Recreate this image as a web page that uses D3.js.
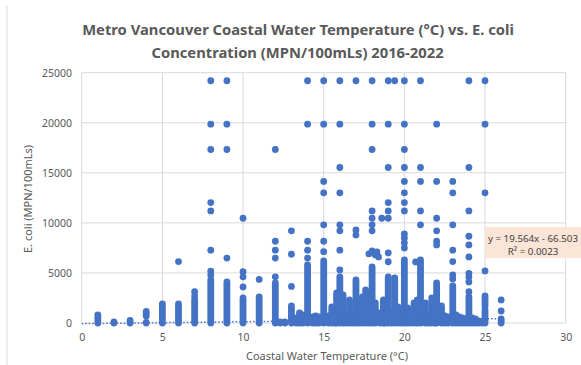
<!DOCTYPE html>
<html>
<head>
<meta charset="utf-8">
<script src="https://cdn.jsdelivr.net/npm/d3@7"></script>
<style>
  body { margin: 0; background: #fff; }
  svg { display: block; font-family: 'Noto Sans', 'Open Sans', sans-serif; }
</style>
</head>
<body>
<div id="chart"></div>
<script>
// axis ticks
const xTicks = [0, 5, 10, 15, 20, 25, 30];
const yTicks = [0, 5000, 10000, 15000, 20000, 25000];

// single readings that stand apart: [water temp °C, E. coli MPN/100mL]
const singleReadings = [
  [6, 6131],
  [7, 3130], [7, 2700],
  [8, 24196], [8, 19863], [8, 17329], [8, 12033], [8, 11199], [8, 7270], [8, 5172], [8, 4800],
  [9, 24196], [9, 19863], [9, 17329], [9, 6488],
  [10, 10462], [10, 5120], [10, 4611], [10, 3600],
  [11, 4352],
  [12, 17329], [12, 8164], [12, 7270], [12, 6488], [12, 4611],
  [13, 9208], [13, 6867], [13, 3654],
  [14, 24196], [14, 19863], [14, 8164], [14, 7270], [14, 6488],
  [15, 24196], [15, 19863], [15, 14136], [15, 12997], [15, 9804], [15, 8164], [15, 7120],
  [16, 24196], [16, 19863], [16, 15531], [16, 12997], [16, 9804], [16, 9208], [16, 7270], [16, 5300],
  [17, 24196], [17, 9300], [17, 8800],
  [18, 24196], [18, 19863], [18, 17329], [18, 11199], [18, 10462], [18, 9804], [18, 9208],
  [17.8, 6900], [18, 7200], [18.2, 6800], [18.3, 7100], [18.4, 6600], [18.6, 10462],
  [19, 24196], [19, 19863], [19, 15531], [19, 12033], [19, 11199], [19, 10462], [19, 6990], [19, 6120],
  [19.4, 24196],
  [20, 24196], [20, 19863], [20, 17329], [20, 15531], [20, 14136], [20, 12997], [20, 12033], [20, 11199],
  [20, 8900], [20, 8500], [20, 8000], [20, 7500],
  [20.7, 6100],
  [21, 24196], [21, 15531], [21, 14136], [21, 11199], [21, 9804],
  [22, 19863], [22, 14136], [22, 10462], [22, 9208], [22, 8164], [22, 7800],
  [23, 14136], [23, 12997], [23, 9804], [23, 7270], [23, 6131], [23, 4800], [23, 4400],
  [24, 24196], [24, 15531], [24, 11199], [24, 8664], [24, 7800], [24, 6600], [24, 4960], [24, 4600], [24, 4100], [24, 3130],
  [25, 24196], [25, 19863], [25, 12997], [25, 5200],
  [26, 2300], [26, 1200]
];

// columns of readings so close they overlap: [water temp °C, lowest, highest]
const stackedReadings = [
  [1, 0, 800], [2, 0, 100], [3, 0, 250], [4, 0, 60], [4, 700, 1150], [5, 0, 1900],
  [6, 0, 1900], [7, 0, 2300], [8, 0, 4300], [9, 0, 4100], [10, 0, 2500], [11, 0, 2600],
  [12, 0, 4000], [12.3, 0, 100], [12.6, 0, 100], [13, 0, 1700], [13.3, 0, 500], [13.5, 0, 1000],
  [13.7, 0, 800], [14, 0, 5800], [14.3, 0, 600], [14.5, 0, 700], [14.7, 0, 600], [15, 0, 6200],
  [15.3, 0, 700], [15.5, 0, 1600], [15.7, 0, 800], [15.8, 0, 3000], [16, 0, 4600], [16.2, 0, 2800],
  [16.4, 0, 800], [16.6, 0, 2300], [16.8, 0, 700], [17, 0, 4300], [17.2, 0, 800], [17.4, 0, 2600],
  [17.6, 0, 3300], [17.8, 0, 1000], [18, 0, 5600], [18.2, 0, 2000], [18.5, 0, 1000], [18.7, 0, 2300],
  [18.8, 0, 800], [19, 0, 4600], [19.2, 0, 1000], [19.4, 0, 4500], [19.6, 0, 1600], [19.8, 0, 800],
  [20, 0, 6300], [20.2, 0, 1500], [20.4, 0, 900], [20.6, 0, 2000], [20.8, 0, 2300], [21, 0, 6300],
  [21.3, 0, 2000], [21.5, 0, 900], [21.7, 0, 2500], [21.9, 0, 1000], [22, 0, 4000], [22.3, 0, 1700],
  [22.5, 0, 700], [22.7, 0, 600], [23, 0, 3700], [23.2, 0, 800], [23.4, 0, 600], [23.6, 0, 500],
  [23.8, 0, 400], [24, 0, 2600], [24.2, 0, 500], [24.4, 0, 400], [24.6, 0, 200], [24.8, 0, 150],
  [25, 1700, 2700], [25, 0, 1300], [26, 0, 400]
];

// linear trendline as Excel reported it
const trendSlope = 19.564;
const trendIntercept = -66.503;
const trendR2 = '0.0023';
const trendRange = [0, 26];

const W = 581, H = 365;
const margin = {top: 72.7, right: 15.3, bottom: 42, left: 81.7};
const blue = '#4472C4';
const grey = '#595959';
const r = 3.4;

const svg = d3.select('#chart').append('svg').attr('width', W).attr('height', H);

// chart area edge on the left
svg.append('line').attr('x1', 7).attr('x2', 7).attr('y1', 5).attr('y2', H)
  .attr('stroke', '#d9d9d9');

const x = d3.scaleLinear().domain([0, 30]).range([margin.left, W - margin.right]);
const y = d3.scaleLinear().domain([0, 25000]).range([H - margin.bottom, margin.top]);

// gridlines
const g = svg.append('g');
g.selectAll('line.h').data(yTicks).join('line').attr('class', 'h')
  .attr('x1', x(0)).attr('x2', x(30)).attr('y1', d => y(d)).attr('y2', d => y(d))
  .attr('stroke', '#d9d9d9').attr('stroke-width', 1);
g.selectAll('line.v').data(xTicks).join('line').attr('class', 'v')
  .attr('x1', d => x(d)).attr('x2', d => x(d)).attr('y1', y(0)).attr('y2', y(25000))
  .attr('stroke', '#d9d9d9').attr('stroke-width', 1);

// tick labels
const axisX = svg.append('g').attr('transform', 'translate(0,' + (y(0) + 15) + ')')
  .call(d3.axisBottom(x).tickValues(xTicks).tickSize(0).tickPadding(0));
axisX.select('.domain').remove();
axisX.selectAll('text').attr('fill', grey).attr('font-size', 10.5)
  .attr('font-family', "'Noto Sans', sans-serif").attr('dy', '0.32em');

const axisY = svg.append('g').attr('transform', 'translate(' + 72 + ',0)')
  .call(d3.axisLeft(y).tickValues(yTicks).tickSize(0).tickPadding(0).tickFormat(d3.format('d')));
axisY.select('.domain').remove();
axisY.selectAll('text').attr('fill', grey).attr('font-size', 10.5)
  .attr('font-family', "'Noto Sans', sans-serif");

// overlapping stacks drawn as round-capped strokes, one dot wide
svg.append('g').selectAll('line').data(stackedReadings).join('line')
  .attr('x1', d => x(d[0])).attr('x2', d => x(d[0]))
  .attr('y1', d => y(d[1])).attr('y2', d => y(d[2]))
  .attr('stroke', blue).attr('stroke-width', r * 2).attr('stroke-linecap', 'round');

svg.append('g').selectAll('circle').data(singleReadings).join('circle')
  .attr('cx', d => x(d[0])).attr('cy', d => y(d[1])).attr('r', r)
  .attr('fill', blue);

// trendline
const trendLine = d3.line().x(d => x(d)).y(d => y(trendSlope * d + trendIntercept));
svg.append('path').datum(trendRange).attr('d', trendLine)
  .attr('fill', 'none').attr('stroke', blue).attr('stroke-width', 1.5)
  .attr('stroke-dasharray', '1.5,2');

function fitWidth(sel, target) {
  const w = sel.node().getComputedTextLength();
  const fs = parseFloat(sel.attr('font-size'));
  sel.attr('font-size', fs * target / w);
}

// trendline label
svg.append('rect').attr('x', 485).attr('y', 227).attr('width', 110).attr('height', 31)
  .attr('fill', '#FBE5D6');
const eq = svg.append('g').attr('fill', '#404040').attr('text-anchor', 'middle');
const eq1 = eq.append('text').attr('x', 533).attr('y', 238.5).attr('dy', '0.35em')
  .attr('font-size', 10.5)
  .text('y = ' + trendSlope + 'x - ' + (-trendIntercept).toFixed(3));
fitWidth(eq1, 90);
eq.append('text').attr('x', 533).attr('y', 252).attr('dy', '0.35em')
  .attr('font-size', eq1.attr('font-size'))
  .text('R² = ' + trendR2);

// titles
const t1 = svg.append('text').attr('x', 298).attr('y', 30).attr('dy', '0.35em')
  .attr('text-anchor', 'middle').attr('font-weight', 'bold').attr('fill', grey)
  .attr('font-size', 15).text('Metro Vancouver Coastal Water Temperature (°C) vs. E. coli');
fitWidth(t1, 432);
const t2 = svg.append('text').attr('x', 297.5).attr('y', 53).attr('dy', '0.35em')
  .attr('text-anchor', 'middle').attr('font-weight', 'bold').attr('fill', grey)
  .attr('font-size', t1.attr('font-size')).text('Concentration (MPN/100mLs) 2016-2022');

const xt = svg.append('text').attr('x', 327).attr('y', 356.5).attr('dy', '0.35em')
  .attr('text-anchor', 'middle').attr('fill', grey).attr('font-size', 10.5)
  .text('Coastal Water Temperature (°C)');
fitWidth(xt, 162);

svg.append('text').attr('transform', 'translate(28,199) rotate(-90)').attr('dy', '0.35em')
  .attr('text-anchor', 'middle').attr('fill', grey).attr('font-size', xt.attr('font-size'))
  .text('E. coli (MPN/100mLs)');
</script>
</body>
</html>
